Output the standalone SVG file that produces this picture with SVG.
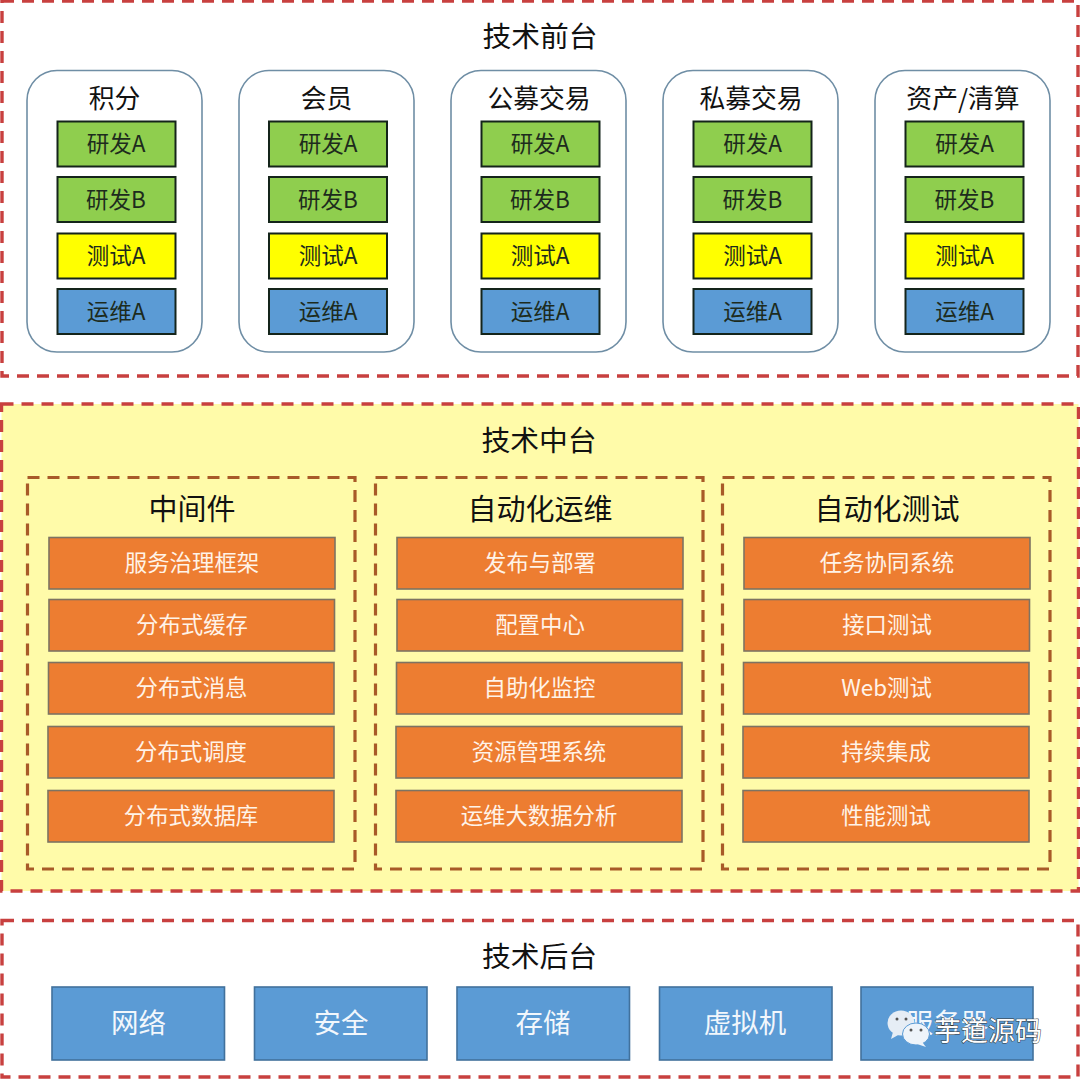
<svg xmlns="http://www.w3.org/2000/svg" width="1080" height="1079" viewBox="0 0 1080 1079">
<style>
text{font-family:"Noto Sans CJK SC","Noto Sans",sans-serif;text-anchor:middle;font-weight:300}
.frame{fill:#fff;stroke:#c8403f;stroke-width:3.400;stroke-dasharray:12 8}
.mid{fill:#fffba9}
.inner{fill:none;stroke:#a85a28;stroke-width:3.200;stroke-dasharray:12 8}
.col{fill:#fff;stroke:#6f8ea5;stroke-width:1.6}
.b{stroke:#14241a;stroke-width:2}
.g{fill:#8fce4e}.y{fill:#ffff00}.u{fill:#5b9bd5}
.o{fill:#ed7d31;stroke:#7d7362;stroke-width:1.6}
.s{fill:#5b9bd5;stroke:#41719c;stroke-width:1.6}
.t{font-size:28.8px;fill:#111;font-weight:400}
.h{font-size:25.8px;fill:#111;font-weight:400}
.l{font-size:22.500px;fill:#1d2b1d;font-weight:400}
.w{font-size:22.4px;fill:#fff3e8;font-weight:400}
.h2{font-size:29px;fill:#111;font-weight:400}
.big{font-size:27.5px;fill:#f2f7fc;font-weight:400}
.wm{font-size:27px;fill:#fff;stroke:#333;stroke-width:1;paint-order:stroke;font-weight:400}
</style>
<g id="front">
<rect class="frame" x="2" y="1" width="1076" height="375"/>
<text class="t" x="540" y="47">技术前台</text>
</g>
<g id="front-jifen">
<rect class="col" x="27" y="70.500" width="175" height="281.500" rx="30"/>
<text class="h" x="114.500" y="108">积分</text>
<rect class="b g" x="57.500" y="121.500" width="118" height="45"/><text class="l" x="116" y="152">研发A</text>
<rect class="b g" x="57.500" y="177" width="118" height="45"/><text class="l" x="116" y="207.500">研发B</text>
<rect class="b y" x="57.500" y="233.500" width="118" height="45"/><text class="l" x="116" y="264">测试A</text>
<rect class="b u" x="57.500" y="289" width="118" height="45"/><text class="l" x="116" y="319.500">运维A</text>
</g>
<g id="front-huiyuan">
<rect class="col" x="239" y="70.500" width="175" height="281.500" rx="30"/>
<text class="h" x="326.500" y="108">会员</text>
<rect class="b g" x="269" y="121.500" width="118" height="45"/><text class="l" x="328" y="152">研发A</text>
<rect class="b g" x="269" y="177" width="118" height="45"/><text class="l" x="328" y="207.500">研发B</text>
<rect class="b y" x="269" y="233.500" width="118" height="45"/><text class="l" x="328" y="264">测试A</text>
<rect class="b u" x="269" y="289" width="118" height="45"/><text class="l" x="328" y="319.500">运维A</text>
</g>
<g id="front-gongmu">
<rect class="col" x="451" y="70.500" width="175" height="281.500" rx="30"/>
<text class="h" x="539" y="108">公募交易</text>
<rect class="b g" x="481.500" y="121.500" width="118" height="45"/><text class="l" x="540" y="152">研发A</text>
<rect class="b g" x="481.500" y="177" width="118" height="45"/><text class="l" x="540" y="207.500">研发B</text>
<rect class="b y" x="481.500" y="233.500" width="118" height="45"/><text class="l" x="540" y="264">测试A</text>
<rect class="b u" x="481.500" y="289" width="118" height="45"/><text class="l" x="540" y="319.500">运维A</text>
</g>
<g id="front-simu">
<rect class="col" x="663" y="70.500" width="175" height="281.500" rx="30"/>
<text class="h" x="751" y="108">私募交易</text>
<rect class="b g" x="693.500" y="121.500" width="118" height="45"/><text class="l" x="752.500" y="152">研发A</text>
<rect class="b g" x="693.500" y="177" width="118" height="45"/><text class="l" x="752.500" y="207.500">研发B</text>
<rect class="b y" x="693.500" y="233.500" width="118" height="45"/><text class="l" x="752.500" y="264">测试A</text>
<rect class="b u" x="693.500" y="289" width="118" height="45"/><text class="l" x="752.500" y="319.500">运维A</text>
</g>
<g id="front-zichan">
<rect class="col" x="875" y="70.500" width="175" height="281.500" rx="30"/>
<text class="h" x="963" y="108">资产/清算</text>
<rect class="b g" x="905.500" y="121.500" width="118" height="45"/><text class="l" x="964.500" y="152">研发A</text>
<rect class="b g" x="905.500" y="177" width="118" height="45"/><text class="l" x="964.500" y="207.500">研发B</text>
<rect class="b y" x="905.500" y="233.500" width="118" height="45"/><text class="l" x="964.500" y="264">测试A</text>
<rect class="b u" x="905.500" y="289" width="118" height="45"/><text class="l" x="964.500" y="319.500">运维A</text>
</g>
<g id="middle">
<rect class="frame mid" x="1.500" y="404" width="1077" height="487"/>
<text class="t" x="539" y="451">技术中台</text>
</g>
<g id="middleware">
<rect class="inner" x="27.500" y="477.500" width="327.500" height="391.500"/>
<text class="h2" x="192" y="519.500">中间件</text>
<rect class="o" x="49" y="537.500" width="286" height="51.500"/><text class="w" x="192" y="571">服务治理框架</text>
<rect class="o" x="49" y="599.500" width="285.500" height="51.500"/><text class="w" x="192" y="633">分布式缓存</text>
<rect class="o" x="48.500" y="662.500" width="285.500" height="51.500"/><text class="w" x="191.500" y="696">分布式消息</text>
<rect class="o" x="48" y="726.500" width="286" height="51.500"/><text class="w" x="191" y="760">分布式调度</text>
<rect class="o" x="48" y="790.500" width="286" height="51.500"/><text class="w" x="191" y="824">分布式数据库</text>
</g>
<g id="auto-ops">
<rect class="inner" x="375.500" y="477.500" width="327.500" height="391.500"/>
<text class="h2" x="540" y="519.500">自动化运维</text>
<rect class="o" x="397" y="537.500" width="286" height="51.500"/><text class="w" x="540" y="571">发布与部署</text>
<rect class="o" x="397" y="599.500" width="285.500" height="51.500"/><text class="w" x="540" y="633">配置中心</text>
<rect class="o" x="396.500" y="662.500" width="285.500" height="51.500"/><text class="w" x="539.500" y="696">自助化监控</text>
<rect class="o" x="396" y="726.500" width="286" height="51.500"/><text class="w" x="539" y="760">资源管理系统</text>
<rect class="o" x="396" y="790.500" width="286" height="51.500"/><text class="w" x="539" y="824">运维大数据分析</text>
</g>
<g id="auto-test">
<rect class="inner" x="722.500" y="477.500" width="327.500" height="391.500"/>
<text class="h2" x="887" y="519.500">自动化测试</text>
<rect class="o" x="744" y="537.500" width="286" height="51.500"/><text class="w" x="887" y="571">任务协同系统</text>
<rect class="o" x="744" y="599.500" width="285.500" height="51.500"/><text class="w" x="887" y="633">接口测试</text>
<rect class="o" x="743.500" y="662.500" width="285.500" height="51.500"/><text class="w" x="886.500" y="696">Web测试</text>
<rect class="o" x="743" y="726.500" width="286" height="51.500"/><text class="w" x="886" y="760">持续集成</text>
<rect class="o" x="743" y="790.500" width="286" height="51.500"/><text class="w" x="886" y="824">性能测试</text>
</g>
<g id="back">
<rect class="frame" x="2" y="920.500" width="1076" height="156.500"/>
<text class="t" x="539.500" y="967">技术后台</text>
</g>
<g id="back-net"><rect class="s" x="52" y="987" width="172.500" height="73"/><text class="big" x="138.500" y="1033">网络</text></g>
<g id="back-sec"><rect class="s" x="254.500" y="987" width="172.500" height="73"/><text class="big" x="341" y="1033">安全</text></g>
<g id="back-store"><rect class="s" x="457" y="987" width="172.500" height="73"/><text class="big" x="543" y="1033">存储</text></g>
<g id="back-vm"><rect class="s" x="659.500" y="987" width="172.500" height="73"/><text class="big" x="745" y="1033">虚拟机</text></g>
<g id="back-server"><rect class="s" x="861" y="987" width="172" height="73"/><text class="big" x="947" y="1033">服务器</text></g>
<g id="watermark">
<ellipse cx="901" cy="1023" rx="13.500" ry="12.500" fill="#e6edf5"/>
<path d="M893 1032l-2 7 9-5z" fill="#e6edf5"/>
<circle cx="897" cy="1019" r="1.500" fill="#555"/><circle cx="906" cy="1019" r="1.500" fill="#555"/>
<ellipse cx="916" cy="1034" rx="13.500" ry="11" fill="#eef4fa" stroke="#5b9bd5" stroke-width="1"/>
<path d="M922 1042l4 5-9-3z" fill="#eef4fa"/>
<circle cx="911" cy="1030" r="1.500" fill="#555"/><circle cx="921" cy="1030" r="1.500" fill="#555"/>
<text class="wm" x="988" y="1041">芋道源码</text>
</g>
</svg>
